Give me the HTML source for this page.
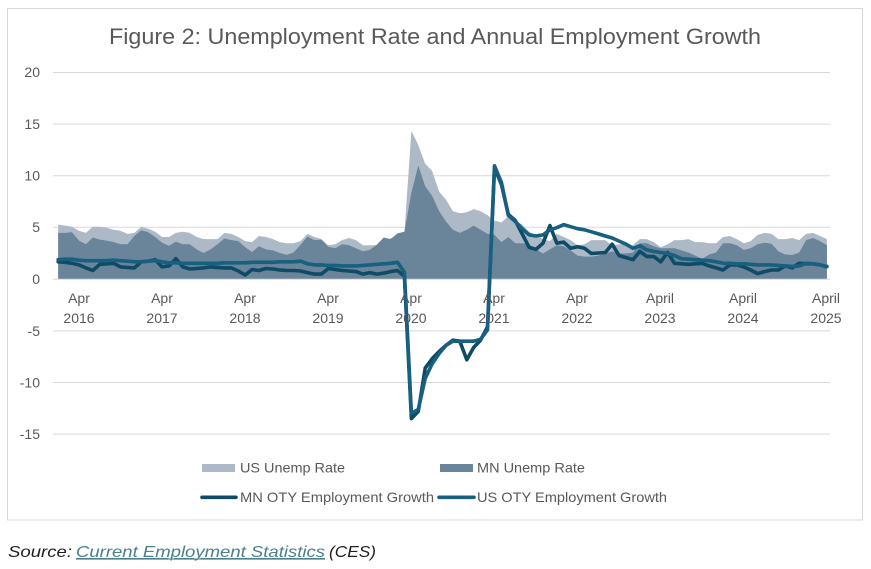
<!DOCTYPE html>
<html>
<head>
<meta charset="utf-8">
<style>
  html,body{margin:0;padding:0;background:#fff;}
  body{width:871px;height:569px;overflow:hidden;position:relative;}
  svg{position:absolute;left:0;top:0;}
  text{font-family:"Liberation Sans",Arial,sans-serif;}
</style>
</head>
<body>
<svg id="chart" width="871" height="569" viewBox="0 0 871 569" xmlns="http://www.w3.org/2000/svg">
  <rect x="7.5" y="8.5" width="855" height="511.5" fill="#fff" stroke="#d9d9d9" stroke-width="1"/>
  <text x="109" y="44" font-size="22" fill="#595959" textLength="652" lengthAdjust="spacingAndGlyphs">Figure 2: Unemployment Rate and Annual Employment Growth</text>

  <g stroke="#d9d9d9" stroke-width="1">
    <line x1="53" y1="72.5" x2="830" y2="72.5"/>
    <line x1="53" y1="124.1" x2="830" y2="124.1"/>
    <line x1="53" y1="175.7" x2="830" y2="175.7"/>
    <line x1="53" y1="227.3" x2="830" y2="227.3"/>
    <line x1="53" y1="330.9" x2="830" y2="330.9"/>
    <line x1="53" y1="382.5" x2="830" y2="382.5"/>
    <line x1="53" y1="434.1" x2="830" y2="434.1"/>
  </g>

  <g font-size="14" fill="#595959" text-anchor="end">
    <text x="40" y="77">20</text>
    <text x="40" y="129">15</text>
    <text x="40" y="180.5">10</text>
    <text x="40" y="232">5</text>
    <text x="40" y="284">0</text>
    <text x="40" y="336">-5</text>
    <text x="40" y="387.5">-10</text>
    <text x="40" y="439">-15</text>
  </g>

  <path id="usArea" fill="#adb9c6" d=""/>
  <path id="mnArea" fill="#6a8499" d=""/>
  <line x1="53" y1="279.3" x2="830" y2="279.3" stroke="#d9d9d9" stroke-width="1"/>
  <path id="mnLine" fill="none" stroke="#0f4a66" stroke-width="3.6" stroke-linejoin="round" stroke-linecap="round" d=""/>
  <path id="usLine" fill="none" stroke="#17607f" stroke-width="3.6" stroke-linejoin="round" stroke-linecap="round" d=""/>

  <g font-size="14" fill="#595959" text-anchor="middle">
    <text x="79" y="303">Apr</text><text x="79" y="323">2016</text>
    <text x="162" y="303">Apr</text><text x="162" y="323">2017</text>
    <text x="245" y="303">Apr</text><text x="245" y="323">2018</text>
    <text x="328" y="303">Apr</text><text x="328" y="323">2019</text>
    <text x="411" y="303">Apr</text><text x="411" y="323">2020</text>
    <text x="494" y="303">Apr</text><text x="494" y="323">2021</text>
    <text x="577" y="303">Apr</text><text x="577" y="323">2022</text>
    <text x="660" y="303">April</text><text x="660" y="323">2023</text>
    <text x="743" y="303">April</text><text x="743" y="323">2024</text>
    <text x="826" y="303">April</text><text x="826" y="323">2025</text>
  </g>

  <rect x="202" y="464" width="33" height="8" fill="#adb9c6"/>
  <text x="240" y="472.5" font-size="14" fill="#595959" textLength="105" lengthAdjust="spacingAndGlyphs">US Unemp Rate</text>
  <rect x="440" y="464" width="33" height="8" fill="#6a8499"/>
  <text x="477" y="472.5" font-size="14" fill="#595959" textLength="108" lengthAdjust="spacingAndGlyphs">MN Unemp Rate</text>
  <line x1="202" y1="497.3" x2="236" y2="497.3" stroke="#0f4a66" stroke-width="3.6" stroke-linecap="round"/>
  <text x="240" y="502" font-size="14" fill="#595959" textLength="194" lengthAdjust="spacingAndGlyphs">MN OTY Employment Growth</text>
  <line x1="439" y1="497.3" x2="474" y2="497.3" stroke="#17607f" stroke-width="3.6" stroke-linecap="round"/>
  <text x="477" y="502" font-size="14" fill="#595959" textLength="190" lengthAdjust="spacingAndGlyphs">US OTY Employment Growth</text>

  <text y="557" font-size="16" font-style="italic" fill="#1f1f1f"><tspan x="8" textLength="64" lengthAdjust="spacingAndGlyphs">Source:</tspan><tspan x="76" fill="#4a7f8c" text-decoration="underline" textLength="249" lengthAdjust="spacingAndGlyphs">Current Employment Statistics</tspan><tspan x="329" textLength="47" lengthAdjust="spacingAndGlyphs">(CES)</tspan></text>
  <line x1="76" y1="559" x2="325" y2="559" stroke="#4a7f8c" stroke-width="1"/>
</svg>
<script>
(function(){
var us=[5.3,5.2,5.1,4.7,4.5,5.1,5.1,5.0,4.8,4.7,4.4,4.5,
5.1,4.9,4.6,4.1,4.1,4.5,4.6,4.5,4.1,3.9,3.9,3.9,
4.5,4.4,4.1,3.7,3.6,4.2,4.1,3.9,3.6,3.5,3.5,3.7,
4.4,4.1,3.9,3.3,3.4,3.8,4.0,3.8,3.3,3.3,3.3,3.4,
4.0,3.8,4.5,14.4,13.0,11.2,10.5,8.5,7.7,6.6,6.4,6.5,
6.8,6.6,6.2,5.7,5.5,6.1,5.7,5.3,4.6,4.3,3.9,3.7,
4.4,4.1,3.8,3.3,3.4,3.8,3.8,3.8,3.3,3.4,3.4,3.3,
3.9,3.9,3.6,3.1,3.4,3.8,3.8,3.9,3.6,3.6,3.5,3.5,
4.1,4.2,3.9,3.5,3.7,4.3,4.5,4.4,3.9,3.9,4.0,3.8,
4.4,4.5,4.2,3.9];
var mn=[4.5,4.5,4.55,3.75,3.4,4.05,3.85,3.75,3.6,3.4,3.4,4.2,
4.75,4.55,4.1,3.55,3.25,3.65,3.4,3.4,2.9,2.55,2.9,3.4,
3.95,3.8,3.7,3.1,2.65,3.2,2.9,2.8,2.55,2.36,2.6,3.35,
4.15,3.8,3.85,3.15,3.0,3.4,3.3,3.0,2.7,2.85,3.35,4.05,
3.9,4.45,4.6,8.4,11.0,9.0,8.1,6.6,5.6,4.8,4.5,4.8,
5.2,4.8,4.4,4.3,3.6,4.1,3.5,3.5,3.4,2.9,2.5,2.9,
3.3,3.2,2.8,2.3,2.2,2.2,2.3,2.5,2.7,2.5,2.5,2.6,
3.5,3.5,3.2,3.0,3.0,3.0,2.8,2.6,2.3,2.0,2.4,2.6,
3.5,3.5,3.3,2.85,3.0,3.4,3.55,3.45,2.7,2.4,2.35,2.6,
3.8,4.0,3.7,3.3];
var usO=[1.9,1.95,1.95,1.85,1.8,1.8,1.8,1.8,1.85,1.8,1.75,1.7,
1.7,1.75,1.8,1.7,1.6,1.6,1.55,1.55,1.55,1.55,1.55,1.55,
1.6,1.6,1.6,1.6,1.65,1.65,1.65,1.65,1.7,1.7,1.7,1.75,
1.5,1.4,1.4,1.35,1.35,1.3,1.3,1.3,1.35,1.4,1.45,1.5,
1.55,1.65,0.7,-13.0,-12.6,-9.6,-8.2,-7.2,-6.4,-6.0,-6.0,-6.0,
-6.0,-5.8,-4.9,11.0,9.4,6.2,5.6,4.9,4.3,4.2,4.3,4.8,
5.0,5.3,5.1,4.9,4.8,4.6,4.4,4.2,4.0,3.7,3.4,3.0,
3.25,2.85,2.7,2.6,2.5,2.3,2.0,1.95,1.9,1.85,1.8,1.7,
1.55,1.55,1.5,1.5,1.45,1.4,1.4,1.4,1.35,1.3,1.25,1.3,
1.55,1.5,1.4,1.25];
var mnO=[1.7,1.65,1.55,1.4,1.1,0.85,1.45,1.5,1.55,1.2,1.15,1.1,
1.7,1.75,1.9,1.2,1.3,2.0,1.2,1.0,1.05,1.1,1.2,1.15,
1.1,1.1,0.8,0.42,0.95,0.85,1.05,1.0,0.9,0.85,0.85,0.8,
0.65,0.5,0.5,1.05,0.95,0.85,0.8,0.75,0.5,0.65,0.5,0.6,
0.75,0.85,0.3,-13.5,-12.8,-8.6,-7.7,-7.0,-6.4,-5.9,-6.0,-7.8,
-6.6,-5.9,-4.6,10.8,9.2,6.3,5.7,4.4,3.1,2.9,3.5,5.2,
3.5,3.6,3.0,3.15,3.0,2.5,2.55,2.6,3.4,2.3,2.1,1.9,
2.7,2.2,2.2,1.7,2.6,1.55,1.5,1.45,1.5,1.55,1.3,1.1,
0.9,1.4,1.4,1.2,0.9,0.55,0.75,0.9,0.9,1.3,1.1,1.55,
1.5,1.5,1.4,1.22];
function X(i){return 58.2+6.925*i;}
function Y(v){return 279.3-v*10.32;}
function line(a){var s='';for(var i=0;i<a.length;i++){s+=(i?'L':'M')+X(i).toFixed(1)+' '+Y(a[i]).toFixed(1);}return s;}
function area(a){return line(a)+'L'+X(a.length-1).toFixed(1)+' 279.3L'+X(0).toFixed(1)+' 279.3Z';}
document.getElementById('usArea').setAttribute('d',area(us));
document.getElementById('mnArea').setAttribute('d',area(mn));
document.getElementById('mnLine').setAttribute('d',line(mnO));
document.getElementById('usLine').setAttribute('d',line(usO));
})();
</script>
</body>
</html>
